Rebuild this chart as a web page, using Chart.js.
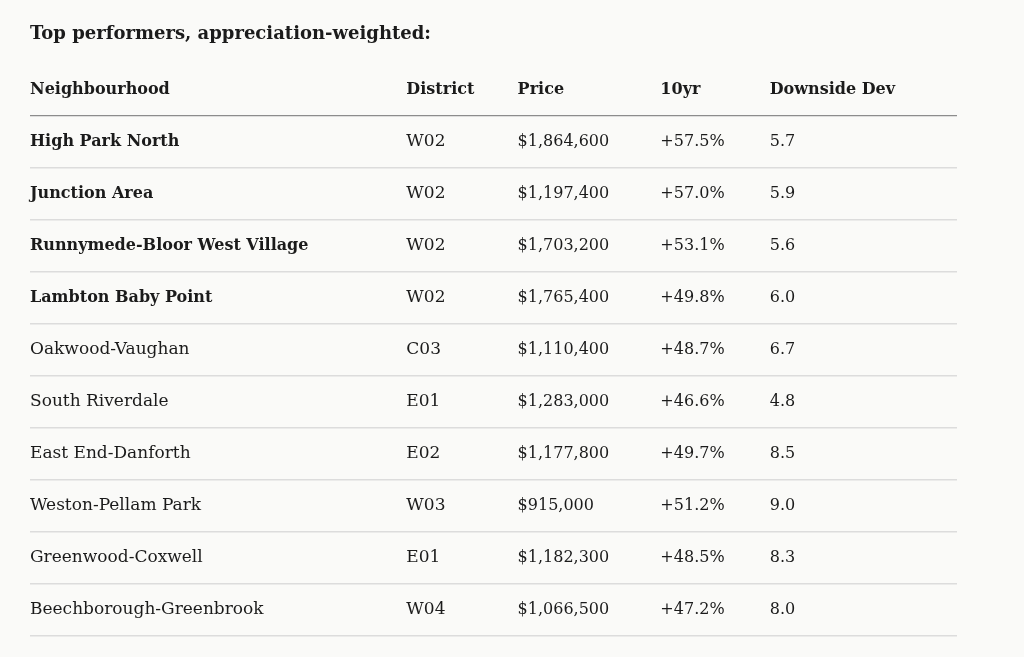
<!DOCTYPE html>
<html>
<head>
<meta charset="utf-8">
<script src="https://cdn.jsdelivr.net/npm/chart.js@4/dist/chart.umd.min.js"></script>
<style>
  html, body { margin: 0; padding: 0; background: #fafaf8; }
  #wrap { width: 1024px; height: 657px; }
</style>
</head>
<body>
<div id="wrap"><canvas id="table"></canvas></div>
<script>
const columns = ["Neighbourhood", "District", "Price", "10yr", "Downside Dev"];
const neighbourhoods = [
  "High Park North",
  "Junction Area",
  "Runnymede-Bloor West Village",
  "Lambton Baby Point",
  "Oakwood-Vaughan",
  "South Riverdale",
  "East End-Danforth",
  "Weston-Pellam Park",
  "Greenwood-Coxwell",
  "Beechborough-Greenbrook",
];
const districts = ["W02", "W02", "W02", "W02", "C03", "E01", "E02", "W03", "E01", "W04"];
const prices = [1864600, 1197400, 1703200, 1765400, 1110400, 1283000, 1177800, 915000, 1182300, 1066500];
const tenYear = [57.5, 57.0, 53.1, 49.8, 48.7, 46.6, 49.7, 51.2, 48.5, 47.2];
const downsideDev = [5.7, 5.9, 5.6, 6.0, 6.7, 4.8, 8.5, 9.0, 8.3, 8.0];
// first few rows are highlighted in bold
const boldRows = 4;

// column start positions, in percent of the table width
const colStart = [0, 40.6, 52.6, 68.0, 79.8];

const serif = "'DejaVu Serif', serif";
const ink = "#1b1b1b";

const rowLabels = ["header"].concat(neighbourhoods);

function cellText(col, i) {
  if (col === 0) return neighbourhoods[i];
  if (col === 1) return districts[i];
  if (col === 2) return "$" + prices[i].toLocaleString("en-US");
  if (col === 3) return "+" + tenYear[i].toFixed(1) + "%";
  return downsideDev[i].toFixed(1);
}

function cellFont(col, i) {
  if (col === 0 && i < boldRows) return "bold 16px " + serif;
  // words run a bit wider than digits in the original face
  return (col <= 1 ? "17px " : "16px ") + serif;
}

const cellPlugin = {
  id: "cells",
  afterDraw(chart) {
    const ctx = chart.ctx;
    const x = chart.scales.x;
    const y = chart.scales.y;
    ctx.save();
    ctx.fillStyle = ink;
    ctx.textBaseline = "middle";
    ctx.textAlign = "left";
    // header row
    ctx.font = "bold 16px " + serif;
    columns.forEach((c, j) => {
      ctx.fillText(c, x.getPixelForValue(colStart[j]), y.getPixelForValue(0));
    });
    // body rows
    neighbourhoods.forEach((n, i) => {
      const yy = y.getPixelForValue(i + 1);
      columns.forEach((c, j) => {
        ctx.font = cellFont(j, i);
        ctx.fillText(cellText(j, i), x.getPixelForValue(colStart[j]), yy);
      });
    });
    ctx.restore();
  }
};

new Chart(document.getElementById("table"), {
  type: "scatter",
  data: {
    labels: rowLabels,
    datasets: [{ data: [], pointRadius: 0 }]
  },
  options: {
    responsive: true,
    maintainAspectRatio: false,
    animation: false,
    layout: { padding: { left: 30, right: 67, top: 16, bottom: 21 } },
    plugins: {
      legend: { display: false },
      tooltip: { enabled: false },
      title: {
        display: true,
        text: "Top performers, appreciation-weighted:",
        align: "start",
        color: ink,
        font: { family: serif, size: 18, weight: "bold" },
        padding: { top: 8, bottom: 18 }
      }
    },
    scales: {
      x: {
        type: "linear",
        min: 0,
        max: 100,
        display: false
      },
      y: {
        type: "category",
        labels: rowLabels,
        offset: true,
        border: { display: false },
        ticks: { display: false },
        grid: {
          offset: true,
          drawTicks: false,
          lineWidth: (c) => (c.index === 1 ? 1.2 : 1.6),
          color: (c) => c.index === 0 ? "rgba(0,0,0,0)" : (c.index === 1 ? "#8c8c8c" : "#dcdcdc")
        }
      }
    }
  },
  plugins: [cellPlugin]
});
</script>
</body>
</html>
